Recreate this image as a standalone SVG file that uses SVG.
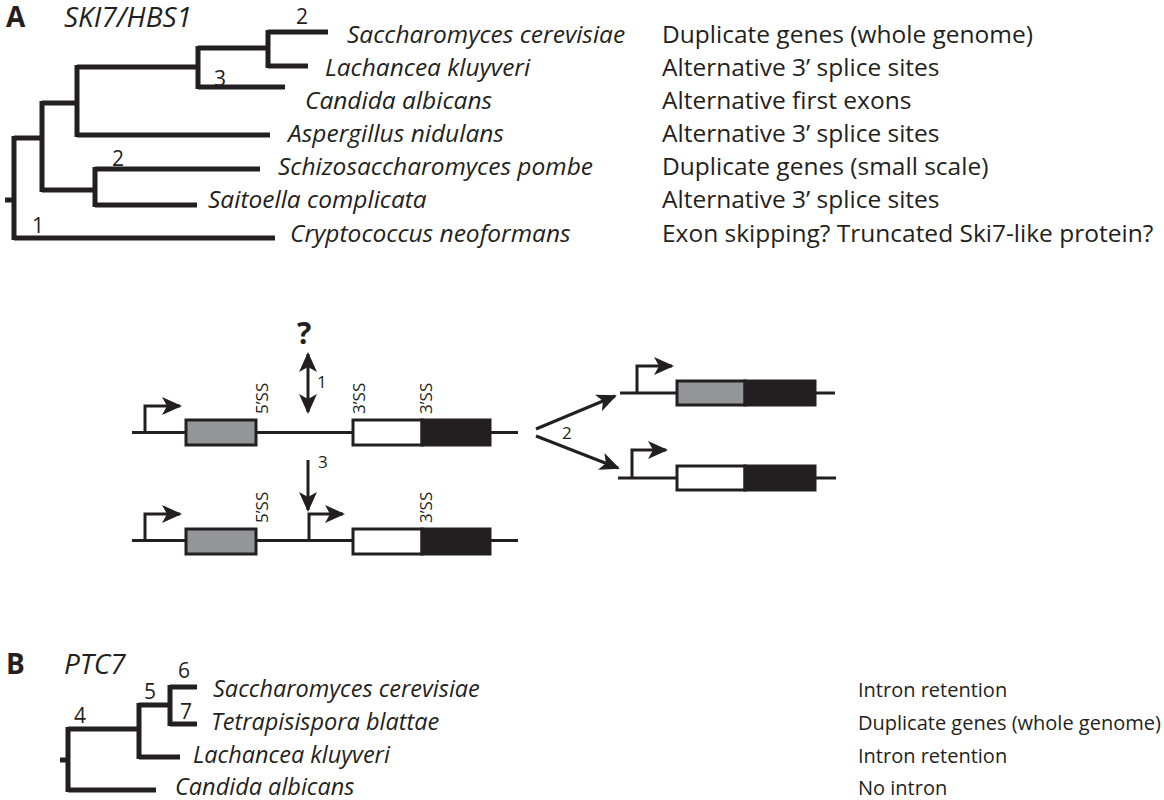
<svg xmlns="http://www.w3.org/2000/svg" width="1164" height="800" viewBox="0 0 1164 800">
<defs>
<style>
text{font-family:"Open Sans","Liberation Sans",sans-serif;fill:#231f20}
.sp{font-style:italic;font-size:24.5px}
.spb{font-style:italic;font-size:23.5px}
.d{font-size:24.5px}
.db{font-size:20px}
.n{font-size:21px}
.s{font-size:17px}
.h{font-weight:bold;font-size:28px}
.hi{font-style:italic;font-size:28px}
.t{fill:none;stroke:#231f20;stroke-width:5}
.l{fill:none;stroke:#231f20;stroke-width:3}
.a{fill:none;stroke:#231f20;stroke-width:3}
.box{stroke:#231f20;stroke-width:3}
</style>
<marker id="ah" viewBox="0 0 20 18" refX="18" refY="9" markerWidth="20" markerHeight="18" orient="auto-start-reverse" markerUnits="userSpaceOnUse"><path d="M0,0 L20,9 L0,18 L5,9 Z" fill="#231f20"/></marker>
</defs>
<rect width="1164" height="800" fill="#fff"/>
<g id="panelA">
<text x="6" y="27" class="h">A</text>
<text x="64" y="27" class="hi">SKI7/HBS1</text>
<path class="t" d="M5,200H14 M14,136V240 M14,238H275 M14,138H42 M42,101V192 M42,103H77 M77,65V137 M77,67H198 M198,46V89 M198,87H285 M198,48H268 M268,30V68 M268,32H328 M268,66H308 M77,135H270 M42,190H95 M95,167V207 M95,169H260 M95,205H197"/>
<text x="296" y="24" class="n">2</text>
<text x="214" y="86" class="n">3</text>
<text x="112" y="166" class="n">2</text>
<text x="32" y="233" class="n">1</text>
<text x="347" y="43" class="sp">Saccharomyces cerevisiae</text>
<text x="325" y="76" class="sp">Lachancea kluyveri</text>
<text x="305" y="109" class="sp">Candida albicans</text>
<text x="288" y="142" class="sp">Aspergillus nidulans</text>
<text x="278" y="175" class="sp">Schizosaccharomyces pombe</text>
<text x="208" y="208" class="sp">Saitoella complicata</text>
<text x="290" y="242" class="sp">Cryptococcus neoformans</text>
<text x="662" y="43" class="d">Duplicate genes (whole genome)</text>
<text x="662" y="76" class="d">Alternative 3’ splice sites</text>
<text x="662" y="109" class="d">Alternative first exons</text>
<text x="662" y="142" class="d">Alternative 3’ splice sites</text>
<text x="662" y="175" class="d">Duplicate genes (small scale)</text>
<text x="662" y="208" class="d">Alternative 3’ splice sites</text>
<text x="662" y="242" class="d">Exon skipping? Truncated Ski7-like protein?</text>
</g>
<g id="gene1">
<path class="l" d="M132,432.5H518"/>
<path class="l" d="M145,432.5V406H180" marker-end="url(#ah)"/>
<rect class="box" x="186" y="420" width="70" height="25" fill="#939598"/>
<rect class="box" x="353" y="420" width="69" height="25" fill="#fff"/>
<rect class="box" x="422" y="420" width="68" height="25" fill="#231f20"/>
<text class="s" transform="translate(268,414) rotate(-90)">5’SS</text>
<text class="s" transform="translate(365,414) rotate(-90)">3’SS</text>
<text class="s" transform="translate(432,414) rotate(-90)">3’SS</text>
<text x="297" y="344" style="font-size:30px;font-weight:bold">?</text>
<text x="317" y="388" class="s">1</text>
</g>
<g id="gene2">
<path class="l" d="M132,540.5H518"/>
<path class="l" d="M145,540.5V514H180" marker-end="url(#ah)"/>
<path class="l" d="M309,540.5V514H343" marker-end="url(#ah)"/>
<rect class="box" x="186" y="529" width="70" height="25" fill="#939598"/>
<rect class="box" x="353" y="529" width="69" height="25" fill="#fff"/>
<rect class="box" x="422" y="529" width="68" height="25" fill="#231f20"/>
<text class="s" transform="translate(268,523) rotate(-90)">5’SS</text>
<text class="s" transform="translate(432,523) rotate(-90)">3’SS</text>
<text x="318" y="468" class="s">3</text>
</g>
<g id="gene3">
<path class="l" d="M620,393H835"/>
<path class="l" d="M637,393V366H672" marker-end="url(#ah)"/>
<rect class="box" x="677" y="381" width="68" height="24" fill="#939598"/>
<rect class="box" x="745" y="381" width="70" height="24" fill="#231f20"/>
</g>
<g id="gene4">
<path class="l" d="M618,478H836"/>
<path class="l" d="M632,478V450H666" marker-end="url(#ah)"/>
<rect class="box" x="677" y="466" width="68" height="24" fill="#fff"/>
<rect class="box" x="745" y="466" width="70" height="24" fill="#231f20"/>
<text x="562" y="439" class="s">2</text>
</g>
<g id="connectors">
<path class="a" d="M308,380V354" marker-end="url(#ah)"/>
<path class="a" d="M308,380V412" marker-end="url(#ah)"/>
<path class="a" d="M308,460V510" marker-end="url(#ah)"/>
<path class="a" d="M536,429L615,396" marker-end="url(#ah)"/>
<path class="a" d="M536,436L618,468" marker-end="url(#ah)"/>
</g>
<g id="panelB">
<text x="6" y="674" class="h">B</text>
<text x="64" y="674" class="hi">PTC7</text>
<path class="t" d="M60,760H68 M68,727V792 M68,729H140 M139,703V759 M139,757H180 M68,790H156 M139,705H170 M170,685V726 M170,687H197 M170,724H197"/>
<text x="178" y="678" class="n">6</text>
<text x="144" y="699" class="n">5</text>
<text x="180" y="719" class="n">7</text>
<text x="74" y="723" class="n">4</text>
<text x="213" y="697" class="spb">Saccharomyces cerevisiae</text>
<text x="211" y="730" class="spb">Tetrapisispora blattae</text>
<text x="193" y="763" class="spb">Lachancea kluyveri</text>
<text x="175" y="795" class="spb">Candida albicans</text>
<text x="858" y="697" class="db">Intron retention</text>
<text x="858" y="730" class="db">Duplicate genes (whole genome)</text>
<text x="858" y="763" class="db">Intron retention</text>
<text x="858" y="795" class="db">No intron</text>
</g>
</svg>
